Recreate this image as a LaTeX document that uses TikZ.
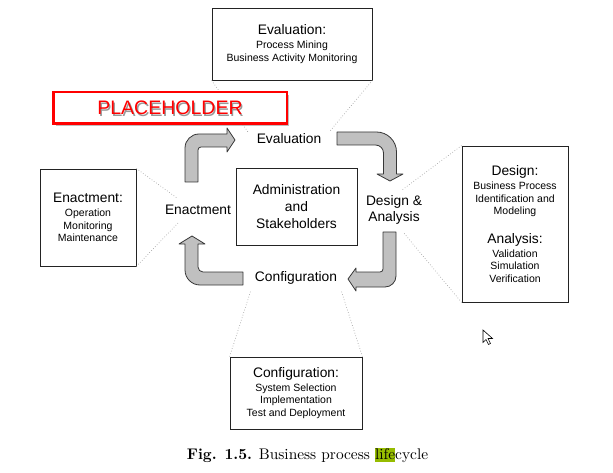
\documentclass[tikz,border=0pt]{standalone}
\usepackage{fontspec}
\newfontfamily\arialfont{Liberation Sans}
\newfontfamily\capfont[BoldFont=lmroman10-bold.otf]{lmroman10-regular.otf}
\usepackage{tikz}
\usetikzlibrary{shadows}
\usepackage{xcolor}
\definecolor{arrowfill}{RGB}{192,192,192}
\definecolor{arrowline}{RGB}{55,55,55}
\definecolor{boxline}{RGB}{35,35,35}
\definecolor{dotline}{RGB}{165,165,165}
\definecolor{phred}{RGB}{255,0,0}
\definecolor{hilite}{RGB}{150,188,0}
\newcommand{\bigtxt}{\fontsize{13.8}{16.6}\selectfont}
\newcommand{\smalltxt}{\fontsize{10.5}{12.5}\selectfont}

\begin{document}
\begin{tikzpicture}[x=1pt,y=-1pt,every node/.style={font=\arialfont\bigtxt},
    stagebox/.style={draw=boxline,line width=0.8pt,fill=white,inner sep=0pt,align=center,font=\arialfont\smalltxt},
    bentarrow/.style={fill=arrowfill,draw=arrowline,line width=0.8pt,line join=round},
    hint/.style={draw=dotline,dotted,line width=0.7pt}]
  \useasboundingbox (0,0) rectangle (613,473);
  % stage boxes
  \node[stagebox,minimum width=160,minimum height=72] (evalbox) at (292,44) {{\bigtxt Evaluation:}\\[1.5pt]Process Mining\\Business Activity Monitoring};
  \node[stagebox,minimum width=96,minimum height=97] (enactbox) at (88,217.5) {{\bigtxt Enactment:}\\[1.5pt]Operation\\Monitoring\\Maintenance};
  \node[stagebox,minimum width=106,minimum height=156] (designbox) at (515,224) {{\bigtxt Design:}\\[1.5pt]Business Process\\Identification and\\Modeling\\[16pt]{\bigtxt Analysis:}\\[1.5pt]Validation\\Simulation\\Verification};
  \node[stagebox,minimum width=132,minimum height=72] (confbox) at (296,393) {{\bigtxt Configuration:}\\[1.5pt]System Selection\\Implementation\\Test and Deployment};
  \node[stagebox,font=\arialfont\bigtxt,minimum width=121,minimum height=77] (adminbox) at (296.5,206.5) {Administration\\and\\Stakeholders};
  % labels on the cycle
  \node (evallbl) at (289,139) {Evaluation};
  \node (enactlbl) at (198,210) {Enactment};
  \node[align=center] (designlbl) at (394,210) {Design \&\\Analysis};
  \node (conflbl) at (296,278) {Configuration};
  % dotted hints
  \coordinate (evalL) at (248,132);
  \coordinate (evalR) at (330,131);
  \coordinate (enactT) at (177,198);
  \coordinate (enactB) at (178,223);
  \coordinate (designT) at (402,190);
  \coordinate (designB) at (403,232);
  \coordinate (confL) at (251,290);
  \coordinate (confR) at (341,290);
  \foreach \a/\b in {evalbox.south west/evalL,evalbox.south east/evalR,enactbox.north east/enactT,enactbox.south east/enactB,
                     designbox.north west/designT,designbox.south west/designB,confbox.north west/confL,confbox.north east/confR}
    \draw[hint] (\a) -- (\b);
  % bent arrows
  \draw[bentarrow] (185,182) [rounded corners=14pt] -- (185,134) [sharp corners] -- (227,134) -- (227,128) -- (235,140) -- (227,152) -- (227,147)
    [rounded corners=3pt] -- (198,147) [sharp corners] -- (198,182) -- cycle;
  \draw[bentarrow] (337,132) [rounded corners=20pt] -- (396.5,132) [sharp corners] -- (396.5,174) -- (403,174) -- (390,181) -- (377,174) -- (383.5,174)
    [rounded corners=8pt] -- (383.5,145) [sharp corners] -- (337,145) -- cycle;
  \draw[bentarrow] (383,232) -- (396,232) [rounded corners=11pt] -- (396,287) [sharp corners] -- (356,287) -- (356,291) -- (348,279) -- (356,268)
    -- (356,272) [rounded corners=3pt] -- (383,272) [sharp corners] -- cycle;
  \draw[bentarrow] (243,272) -- (243,285) [rounded corners=15pt] -- (185,285) [sharp corners] -- (185,244) -- (179,244) -- (192,236) -- (205,244)
    -- (198,244) [rounded corners=5pt] -- (198,272) [sharp corners] -- cycle;
  % placeholder banner
  \node[draw=phred,line width=2.5pt,fill=white,minimum width=233.5,minimum height=31.5,inner sep=0pt,
        drop shadow={shadow xshift=2.5pt,shadow yshift=-2.5pt,fill=black,opacity=0.25}] (placeholder) at (170,108) {};
  \node[text=black!40,font=\arialfont\fontsize{19.5}{21}\selectfont] (phshade) at (171.3,109.3) {PLACEHOLDER};
  \node[text=phred,font=\arialfont\fontsize{19.5}{21}\selectfont] (phtext) at (placeholder) {PLACEHOLDER};
  % mouse pointer
  \draw[fill=white,line width=0.6pt] (483,330) -- (483,342.5) -- (486,339.5) -- (488.5,344.5) -- (490.5,343.5) -- (488,338.5) -- (492.5,338.5) -- cycle;
  % caption
  \node[font=\capfont\fontsize{15.4}{18}\selectfont] (caption) at (307.5,455)
    {\textbf{Fig. 1.5.} Business process {\fboxsep=0pt\colorbox{hilite}{\rule[-3.3pt]{0pt}{14.6pt}life}}cycle};
\end{tikzpicture}
\end{document}
